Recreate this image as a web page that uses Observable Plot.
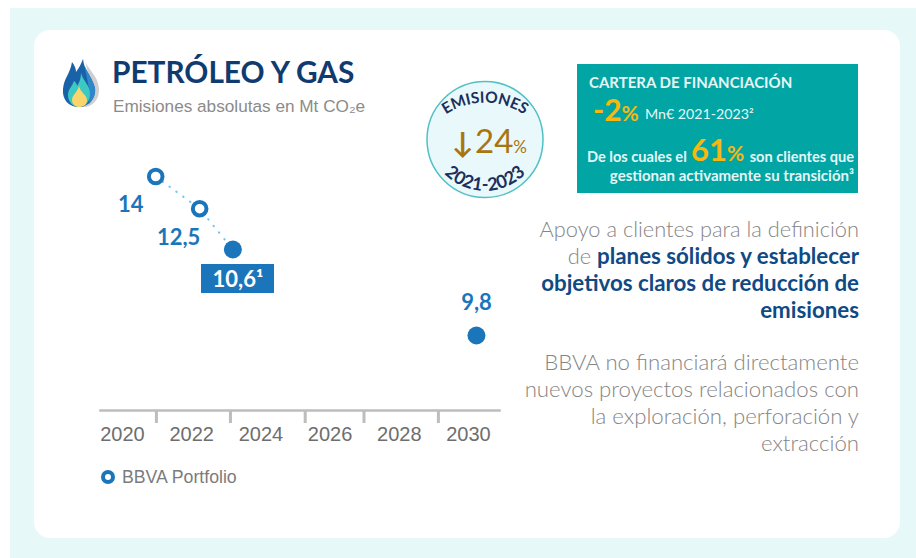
<!DOCTYPE html>
<html><head><meta charset="utf-8">
<script src="https://cdn.jsdelivr.net/npm/d3@7"></script>
<script src="https://cdn.jsdelivr.net/npm/@observablehq/plot@0.6"></script>
<style>
html,body{margin:0;padding:0;background:#fff;width:916px;height:558px;overflow:hidden}
#bg{position:absolute;left:10px;top:8px;width:906px;height:550px;background:#e7f8f9}
#card{position:absolute;left:34px;top:30px;width:866px;height:508px;background:#fff;border-radius:16px}
#box106{position:absolute;left:201px;top:264px;width:73px;height:29px;background:#1b75bb}
#plot{position:absolute;left:0;top:0}
#plot svg{background:transparent;display:block}
.t{position:absolute;white-space:nowrap;font-family:Lato,sans-serif;line-height:1}
.r{right:57px;font-size:21.8px;color:#858585;font-weight:300}
.l{font-size:22.2px}
.b{font-weight:700;color:#0f4a85;font-size:22.3px}
.a{font-family:"Liberation Sans",Arial,sans-serif}
.w{color:#e6f6f6}.y{color:#f6b80f}
#teal{position:absolute;left:577px;top:64px;width:281px;height:129px;background:#00a5a4}
#svgx{position:absolute;left:0;top:0}
</style></head><body>
<div id="bg"></div><div id="card"></div><div id="box106"></div>
<div id="teal"></div>
<svg id="svgx" width="916" height="558">
  <g>
    <path d="M84 59 C88 70 99 76 99 90 C99 100 92 107 84 107 L78 107 C88 100 92 78 84 59Z" fill="#cfcfcf"/>
    <path d="M83 59 C83 68 92 76 95 88 C96 99 88 107 79 107 C69 107 62 100 63 89 C64 78 70 74 72 62 C75 66 76 69 76 72 C79 68 81 64 83 59Z" fill="#1a62a8"/>
    <path d="M83 59 C83 68 92 76 95 88 C96 95 93 100 89 104 C91 92 86 74 83 59Z" fill="#2f86c8"/>
    <path d="M81 73 C83 81 90 85 90 94 C90 102 85 107 79 107 C73 107 68 102 68 95 C68 89 72 87 74 81 C76 83 77 84 77 86 C79 83 81 79 81 73Z" fill="#3cc9c4"/>
    <path d="M79 86 C80 92 87 95 87 100 C87 105 83 107 79 107 C75 107 72 104 72 100 C72 95 77 93 79 86Z" fill="#fbd56b"/>
  </g>
  <circle cx="485" cy="139.5" r="58" fill="#e9f8fa" stroke="#4fc1c4" stroke-width="1.5"/>
  <defs>
    <path id="arcTop" d="M 440 119 A 70 70 0 0 1 530 119"/>
    <path id="arcBot" d="M 438 166 A 57 57 0 0 0 532 166"/>
  </defs>
  <text font-family="Lato,sans-serif" font-size="15.5" font-weight="700" fill="#1c2f5c"><textPath href="#arcTop" startOffset="50%" text-anchor="middle">EMISIONES</textPath></text>
  <text font-family="Lato,sans-serif" font-size="18" font-weight="700" fill="#1c2f5c"><textPath href="#arcBot" startOffset="50%" text-anchor="middle">2021-2023</textPath></text>
</svg>
<div id="plot"></div>

<div class="t" style="left:112px;top:57px;font-size:29.8px;font-weight:700;color:#0f3b70">PETRÓLEO Y GAS</div>
<div class="t a" style="left:113px;top:98px;font-size:17.2px;color:#8b8b8b">Emisiones absolutas en Mt CO₂e</div>

<div class="t" style="left:452px;top:127px;font-size:29px;font-weight:700;color:#a8750f">↓</div>
<div class="t" style="left:475px;top:124px;font-size:33px;color:#a8750f">24<span style="font-size:17px">%</span></div>

<div class="t w" style="left:589px;top:75px;font-size:15px;font-weight:700">CARTERA DE FINANCIACIÓN</div>
<div class="t y" style="left:593px;top:94px;font-size:30px;font-weight:700">-2<span style="font-size:21px">%</span></div>
<div class="t w" style="left:645px;top:107px;font-size:14.2px">Mn€ 2021-2023²</div>
<div class="t w" style="left:587px;top:150px;font-size:14.6px;font-weight:700">De los cuales el</div>
<div class="t y" style="left:691px;top:134px;font-size:31px;font-weight:700">61<span style="font-size:21px">%</span></div>
<div class="t w" style="right:62px;top:150px;font-size:14.6px;font-weight:700">son clientes que</div>
<div class="t w" style="right:62px;top:168px;font-size:15px;font-weight:700">gestionan activamente su transición³</div>

<div class="t r" style="top:218px">Apoyo a clientes para la definición</div>
<div class="t r" style="top:245px">de <span class="b">planes sólidos y establecer</span></div>
<div class="t r b" style="top:272px">objetivos claros de reducción de</div>
<div class="t r b" style="top:299px">emisiones</div>
<div class="t r l" style="top:351px">BBVA no financiará directamente</div>
<div class="t r l" style="top:378px">nuevos proyectos relacionados con</div>
<div class="t r l" style="top:405px">la exploración, perforación y</div>
<div class="t r l" style="top:432px">extracción</div>

<div style="position:absolute;left:101px;top:470px;width:6px;height:6px;border:4.5px solid #1b75bb;border-radius:50%;background:#fff"></div>
<div class="t a" style="left:122px;top:469px;font-size:17.7px;color:#7b7b7b">BBVA Portfolio</div>

<script>
// Years as placed along the reference's axis
const pointYears = [2020.96, 2022.23, 2023.19, 2030.23];
const emissions = [14, 12.5, 10.6, 9.8];
const valueLabels = ["14", "12,5", "10,6¹", "9,8"];
const labelDx = [-25, -21, 5, 0];
const labelDy = [28, 29, 30, -33];
const labelColors = ["#1b75bb", "#1b75bb", "#ffffff", "#1b75bb"];
const pointFilled = [false, false, true, true];
const yearTicks = [2020, 2022, 2024, 2026, 2028, 2030];
const tickMarks = [2020.98, 2023.12, 2025.28, 2026.98, 2029.13];
const rows = emissions.map((v, i) => ({
  year: pointYears[i], value: v, label: valueLabels[i], dx: labelDx[i], dy: labelDy[i],
  color: labelColors[i], filled: pointFilled[i]
}));
const chart = Plot.plot({
  width: 916, height: 558,
  marginLeft: 100, marginRight: 417, marginBottom: 148, marginTop: 0,
  style: {background: "transparent", overflow: "visible"},
  x: {domain: [2020, 2030], range: [122, 468]},
  y: {type: "linear", domain: [14, 10.6, 9.8], range: [176, 249, 335], axis: null},
  marks: [
    Plot.line(rows.slice(0, 3), {x: "year", y: "value", stroke: "#74c3ee", strokeWidth: 2, strokeDasharray: "0.5 8", strokeLinecap: "round"}),
    Plot.frame({anchor: "bottom", stroke: "#bdbdbd", strokeWidth: 2.5}),
    Plot.axisX({ticks: tickMarks, tickSize: 13, tickFormat: () => "", stroke: "#bdbdbd", strokeWidth: 3, label: null}),
    Plot.axisX({ticks: yearTicks, tickSize: 0, tickPadding: 16, tickFormat: d => String(d), fontSize: 20, fontFamily: "Liberation Sans", color: "#6e6e6e", label: null}),
    Plot.dot(rows.filter(d => !d.filled), {x: "year", y: "value", r: 6.8, fill: "#fff", stroke: "#1b75bb", strokeWidth: 4}),
    Plot.dot(rows.filter(d => d.filled), {x: "year", y: "value", r: 9, fill: "#1b75bb"}),
    ...rows.map(d => Plot.text([d], {x: "year", y: "value", text: "label", dx: d.dx, dy: d.dy, fill: d.color, fontSize: 22, fontWeight: 700, fontFamily: "Lato"}))
  ]
});
document.getElementById("plot").appendChild(chart);
</script>
</body></html>
